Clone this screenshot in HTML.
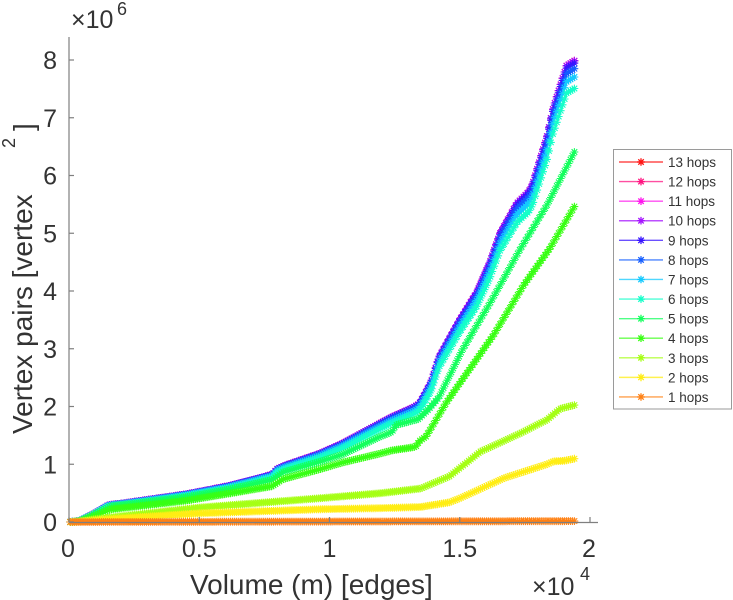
<!DOCTYPE html>
<html>
<head>
<meta charset="utf-8">
<style>
  html,body{margin:0;padding:0;background:#fff;}
  svg{display:block;}
  text{font-family:"Liberation Sans",Arial,sans-serif;fill:#333;}
</style>
</head>
<body>
<svg id="chart" xmlns="http://www.w3.org/2000/svg" width="733" height="600" viewBox="0 0 733 600">
  <rect x="0" y="0" width="733" height="600" fill="#fff"/>
  <g id="series"></g>
  <!-- axes -->
  <g stroke="#7f7f7f" stroke-width="1.2" fill="none">
    <line x1="69" y1="37" x2="69" y2="522.5"/>
    <line x1="69" y1="522.5" x2="598" y2="522.5"/>
    <line x1="69" y1="522" x2="74" y2="522"/>
    <line x1="69" y1="464.25" x2="74" y2="464.25"/>
    <line x1="69" y1="406.5" x2="74" y2="406.5"/>
    <line x1="69" y1="348.75" x2="74" y2="348.75"/>
    <line x1="69" y1="291" x2="74" y2="291"/>
    <line x1="69" y1="233.25" x2="74" y2="233.25"/>
    <line x1="69" y1="175.5" x2="74" y2="175.5"/>
    <line x1="69" y1="117.75" x2="74" y2="117.75"/>
    <line x1="69" y1="60" x2="74" y2="60"/>
    <line x1="69" y1="522" x2="69" y2="517"/>
    <line x1="199.25" y1="522" x2="199.25" y2="517"/>
    <line x1="329.5" y1="522" x2="329.5" y2="517"/>
    <line x1="459.75" y1="522" x2="459.75" y2="517"/>
    <line x1="590" y1="522" x2="590" y2="517"/>
  </g>
  <!-- y tick labels -->
  <g font-size="25" text-anchor="end">
    <text x="57" y="531">0</text>
    <text x="57" y="473.25">1</text>
    <text x="57" y="415.5">2</text>
    <text x="57" y="357.75">3</text>
    <text x="57" y="300">4</text>
    <text x="57" y="242.25">5</text>
    <text x="57" y="184.5">6</text>
    <text x="57" y="126.75">7</text>
    <text x="57" y="69">8</text>
  </g>
  <!-- x tick labels -->
  <g font-size="25" text-anchor="middle">
    <text x="68" y="557">0</text>
    <text x="199.25" y="557">0.5</text>
    <text x="329.5" y="557">1</text>
    <text x="459.75" y="557">1.5</text>
    <text x="589" y="557">2</text>
  </g>
  <!-- exponent labels -->
  <text x="71" y="28" font-size="25">×10</text>
  <text x="117" y="15" font-size="18">6</text>
  <text x="532" y="595" font-size="25">×10</text>
  <text x="580" y="580" font-size="18">4</text>
  <!-- axis labels -->
  <text x="190" y="594" font-size="28">Volume (m) [edges]</text>
  <text transform="translate(32,434) rotate(-90)" font-size="28">Vertex pairs [vertex</text>
  <text transform="translate(15,148) rotate(-90)" font-size="18">2</text>
  <text transform="translate(33,131) rotate(-90)" font-size="28">]</text>
  <!-- legend -->
  <rect x="613.5" y="149.5" width="118" height="259.5" fill="#fff" stroke="#9a9a9a" stroke-width="1"/>
  <g id="legend"></g>
</svg>
<script>
(function(){
  var NS="http://www.w3.org/2000/svg";
  function px(x){return 69+x*260.5;}
  function py(y){return 522-y*57.75;}
  function color(k){var h=(k*360/13)%360;return "hsl("+h.toFixed(1)+",100%,54%)";}
  function interp(pts,x){
    if(x<=pts[0][0]) return pts[0][1];
    for(var i=1;i<pts.length;i++){
      if(x<=pts[i][0]){var a=pts[i-1],b=pts[i];return a[1]+(b[1]-a[1])*(x-a[0])/(b[0]-a[0]);}
    }
    return pts[pts.length-1][1];
  }
  var T=[[0.005,0],[0.04,0.02],[0.09,0.13],[0.15,0.29],[0.22,0.33],[0.45,0.48],[0.61,0.62],[0.78,0.82],[0.80,0.92],[0.83,0.98],[0.96,1.18],[1.05,1.36],[1.19,1.70],[1.24,1.82],[1.32,1.98],[1.345,2.05],[1.37,2.25],[1.39,2.42],[1.42,2.85],[1.50,3.5],[1.566,3.98],[1.616,4.5],[1.655,5.0],[1.72,5.52],[1.765,5.72],[1.78,5.85],[1.835,6.68],[1.857,7.14],[1.91,7.9],[1.945,8.0]];
  var H5=[[0.005,0],[0.04,0.015],[0.09,0.12],[0.16,0.27],[0.22,0.3],[0.45,0.43],[0.61,0.56],[0.78,0.73],[0.82,0.86],[0.96,1.04],[1.05,1.17],[1.19,1.47],[1.24,1.56],[1.255,1.68],[1.34,1.78],[1.38,1.95],[1.42,2.16],[1.51,2.98],[1.616,3.79],[1.73,4.71],[1.835,5.49],[1.945,6.45]];
  var H4=[[0.005,0],[0.04,0.01],[0.09,0.09],[0.16,0.22],[0.22,0.25],[0.45,0.37],[0.61,0.49],[0.78,0.62],[0.82,0.74],[0.96,0.91],[1.05,1.03],[1.19,1.18],[1.24,1.24],[1.33,1.3],[1.345,1.4],[1.37,1.48],[1.4,1.7],[1.45,2.08],[1.63,3.24],[1.745,4.1],[1.846,4.74],[1.945,5.5]];
  var H3=[[0.005,0],[0.05,0.01],[0.1,0.05],[0.22,0.11],[0.5,0.25],[0.96,0.41],[1.2,0.5],[1.35,0.58],[1.46,0.79],[1.58,1.22],[1.73,1.53],[1.8,1.69],[1.835,1.77],[1.885,1.96],[1.945,2.03]];
  var H2=[[0.005,0],[0.1,0.03],[0.22,0.07],[0.5,0.15],[0.96,0.22],[1.2,0.24],[1.35,0.26],[1.46,0.34],[1.5,0.41],[1.67,0.76],[1.835,1.0],[1.86,1.05],[1.9,1.06],[1.945,1.1]];
  var H1=[[0.005,0],[1.945,0.015]];
  function scaled(p,f){return p.map(function(q){return [q[0],q[1]*f];});}
  var data={13:T,12:T,11:T,10:T,9:scaled(T,0.995),8:scaled(T,0.983),7:scaled(T,0.965),6:scaled(T,0.94),5:H5,4:H4,3:H3,2:H2,1:H1};
  var g=document.getElementById("series");
  function star(x,y,r){
    var d=r*0.72;
    return "M"+(x-r).toFixed(1)+" "+y.toFixed(1)+"h"+(2*r).toFixed(2)+
      "M"+x.toFixed(1)+" "+(y-r).toFixed(1)+"v"+(2*r).toFixed(2)+
      "M"+(x-d).toFixed(1)+" "+(y-d).toFixed(1)+"l"+(2*d).toFixed(2)+" "+(2*d).toFixed(2)+
      "M"+(x-d).toFixed(1)+" "+(y+d).toFixed(1)+"l"+(2*d).toFixed(2)+" "+(-2*d).toFixed(2);
  }
  for(var k=13;k>=1;k--){
    var pts=data[k], c=color(k), line=[], mk="";
    for(var x=0.005;x<=1.9451;x+=0.0075){
      var X=px(x),Y=py(interp(pts,x));
      line.push(X.toFixed(1)+","+Y.toFixed(1));
      mk+=star(X,Y,3.9);
    }
    var pl=document.createElementNS(NS,"polyline");
    pl.setAttribute("points",line.join(" "));
    pl.setAttribute("fill","none");pl.setAttribute("stroke",c);pl.setAttribute("stroke-width","1.5");
    g.appendChild(pl);
    var pm=document.createElementNS(NS,"path");
    pm.setAttribute("d",mk);pm.setAttribute("fill","none");pm.setAttribute("stroke",c);pm.setAttribute("stroke-width","1.1");
    g.appendChild(pm);
  }
  var lg=document.getElementById("legend");
  for(var i=0;i<13;i++){
    var k=13-i, y=162+19.58*i, c=color(k);
    var l=document.createElementNS(NS,"line");
    l.setAttribute("x1","619");l.setAttribute("x2","663");l.setAttribute("y1",y);l.setAttribute("y2",y);
    l.setAttribute("stroke",c);l.setAttribute("stroke-width","1.4");l.setAttribute("stroke-opacity","0.75");
    lg.appendChild(l);
    var m=document.createElementNS(NS,"path");
    m.setAttribute("d",star(641,y,3.8));m.setAttribute("stroke",c);m.setAttribute("stroke-width","1.3");m.setAttribute("fill","none");
    lg.appendChild(m);
    var t=document.createElementNS(NS,"text");
    t.setAttribute("x","668");t.setAttribute("y",(y+5).toFixed(1));t.setAttribute("font-size","13.5");
    t.textContent=k+" hops";
    lg.appendChild(t);
  }
})();
</script>
</body>
</html>
